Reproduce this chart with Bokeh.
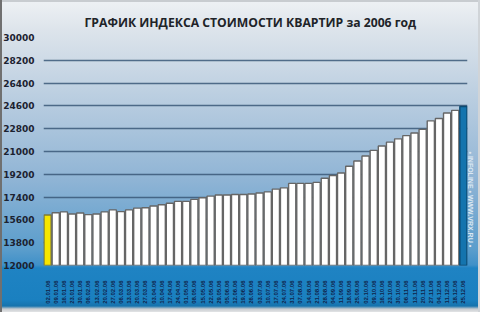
import math
from bokeh.plotting import figure
from bokeh.models import FactorRange, Range1d, FixedTicker, ColumnDataSource, LinearAxis
from bokeh.embed import file_html
from bokeh.resources import INLINE

title_text = "ГРАФИК ИНДЕКСА СТОИМОСТИ КВАРТИР за 2006 год"
side_text = "• INFOLINE • WWW.VRX.RU •"

dates = [
    "02.01.06", "09.01.06", "16.01.06", "23.01.06", "30.01.06", "06.02.06",
    "13.02.06", "20.02.06", "27.02.06", "06.03.06", "13.03.06", "20.03.06",
    "27.03.06", "03.04.06", "10.04.06", "17.04.06", "24.04.06", "01.05.06",
    "08.05.06", "15.05.06", "22.05.06", "29.05.06", "05.06.06", "12.06.06",
    "19.06.06", "26.06.06", "03.07.06", "10.07.06", "17.07.06", "24.07.06",
    "31.07.06", "07.08.06", "14.08.06", "21.08.06", "28.08.06", "04.09.06",
    "11.09.06", "18.09.06", "25.09.06", "02.10.06", "09.10.06", "16.10.06",
    "23.10.06", "30.10.06", "06.11.06", "13.11.06", "20.11.06", "27.11.06",
    "04.12.06", "11.12.06", "18.12.06", "25.12.06",
]

values = [
    15990, 16170, 16230, 16070, 16150, 16020, 16070, 16230, 16390, 16250,
    16390, 16530, 16560, 16700, 16800, 16920, 17060, 17060, 17220, 17350,
    17480, 17570, 17570, 17610, 17610, 17650, 17720, 17810, 18030, 18130,
    18480, 18480, 18480, 18560, 18890, 19100, 19300, 19840, 20250, 20640,
    21090, 21430, 21740, 22000, 22250, 22460, 22750, 23420, 23600, 24040,
    24250, 24550,
]

y_ticks = [12000, 13800, 15600, 17400, 19200, 21000, 22800, 24600, 26400, 28200, 30000]

fill_colors = ["#f6e600"] + ["#ffffff"] * (len(values) - 2) + ["#1474ae"]
line_colors = ["#7d7a3a"] + ["#666666"] * (len(values) - 2) + ["#0c4a72"]

src = ColumnDataSource(dict(date=dates, value=values, fill=fill_colors, line=line_colors))

p = figure(
    width=480, height=312,
    x_range=FactorRange(*dates, range_padding=0),
    y_range=Range1d(12000, 30000),
    output_backend="svg", toolbar_location=None,
    min_border_left=39, min_border_right=11, min_border_top=37, min_border_bottom=47,
    title=title_text,
)
p.styles = {
    "background": "linear-gradient(to bottom, #eef1f4 0px, #dde4eb 30px, #b9cde0 100px, "
                  "#8fb4d5 180px, #5a9dcc 250px, #3f90c8 265px, #1f83c3 268px, "
                  "#1a80c0 300px, #1673ad 306px, #c9ccd0 309px, #e2e4e6 312px)",
    "box-shadow": "inset 2px 0 0 #707070, inset -2px 0 0 #d0d4d8, inset 0 2px 0 #c8ccd0",
}
p.background_fill_alpha = 0
p.border_fill_alpha = 0
p.outline_line_color = None

p.title.align = "left"
p.title.offset = 41
p.title.text_font = "Open Sans"
p.title.text_font_style = "bold"
p.title.text_font_size = "12.2px"
p.title.text_color = "#202328"
p.title.standoff = 13

p.vbar(x="date", top="value", bottom=12000, width=0.88, source=src,
       fill_color="fill", line_color="line", line_width=1.4)

p.yaxis.ticker = FixedTicker(ticks=y_ticks)
p.yaxis.axis_line_color = None
p.yaxis.major_tick_line_color = None
p.yaxis.minor_tick_line_color = None
p.yaxis.major_label_standoff = 3
p.yaxis.major_label_text_font = "DejaVu Sans"
p.yaxis.major_label_text_font_style = "bold"
p.yaxis.major_label_text_font_size = "9px"
p.yaxis.major_label_text_color = "#1c2230"

p.xaxis.axis_line_color = None
p.xaxis.major_tick_line_color = None
p.xaxis.minor_tick_line_color = None
p.xaxis.major_label_orientation = math.pi / 2
p.xaxis.major_label_standoff = 9
p.xaxis.major_label_text_font = "Liberation Sans"
p.xaxis.major_label_text_font_style = "bold"
p.xaxis.major_label_text_font_size = "6px"
p.xaxis.major_label_text_color = "#10244a"

p.xgrid.grid_line_color = None
p.ygrid.ticker = FixedTicker(ticks=y_ticks)
p.ygrid.grid_line_color = "#3a5878"
p.ygrid.grid_line_width = 1.3
p.ygrid.grid_line_alpha = 0.85

side_axis = LinearAxis(ticker=FixedTicker(ticks=[]), bounds=(12000, 18800),
                       axis_label=side_text)
side_axis.axis_line_color = None
side_axis.major_tick_line_color = None
side_axis.minor_tick_line_color = None
side_axis.major_label_text_font_size = "0px"
side_axis.axis_label_standoff = 3
side_axis.axis_label_text_font = "Liberation Sans"
side_axis.axis_label_text_font_style = "bold"
side_axis.axis_label_text_font_size = "7px"
side_axis.axis_label_text_color = "#dbe8f3"
if hasattr(side_axis, "axis_label_orientation"):
    side_axis.axis_label_orientation = -math.pi / 2
p.add_layout(side_axis, "right")

open("out.html", "w").write(file_html(p, INLINE))
